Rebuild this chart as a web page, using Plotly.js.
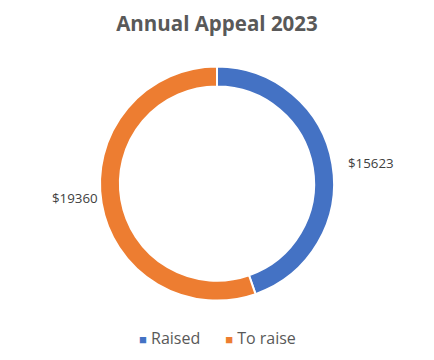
<!DOCTYPE html>
<html><head><meta charset="utf-8">
<script src="https://cdn.plot.ly/plotly-3.0.1.min.js"></script>
<style>html,body{margin:0;padding:0;background:#fff}#c{width:434px;height:360px}</style>
</head><body><div id="c"></div>
<script>
const categories = ["Raised", "To raise"];
const values = [15623, 19360];
const colors = ["#4472C4", "#ED7D31"];

const W = 434, H = 360;
const cx = 0.5, cy = 0.49, rPx = 117;
const dom = {x: [cx - rPx / W, cx + rPx / W], y: [cy - rPx / H, cy + rPx / H]};
const FONT = "Open Sans, Noto Sans, sans-serif";

const total = values.reduce((a, b) => a + b, 0);
const annotations = [];
let start = 0;
values.forEach((v, i) => {
  const mid = (start + v / 2) / total * 2 * Math.PI;
  start += v;
  const rr = rPx + 33;
  annotations.push({
    x: cx + (Math.sin(mid) * rr + 6) / W,
    y: cy + (Math.cos(mid) * rr * 0.7 + 3) / H,
    xref: "paper", yref: "paper", xanchor: "center", yanchor: "middle",
    text: "$" + v, showarrow: false,
    font: {family: FONT, size: 13.3, color: "#404040"}
  });
});

// legend drawn as text row with coloured squares
const legendText = categories.map((c, i) =>
  "<span style='color:" + colors[i] + ";font-size:13px'>■</span> " + c).join("      ");
annotations.push({
  x: 0.5, y: 0.06, xref: "paper", yref: "paper", xanchor: "center", yanchor: "middle",
  text: legendText, showarrow: false,
  font: {family: FONT, size: 16, color: "#595959"}
});

Plotly.newPlot("c", [{
  type: "pie",
  labels: categories,
  values: values,
  hole: 0.83,
  sort: false,
  direction: "clockwise",
  rotation: 0,
  textinfo: "none",
  marker: {colors: colors, line: {color: "#ffffff", width: 2}},
  domain: dom
}], {
  width: W, height: H,
  margin: {l: 0, r: 0, t: 0, b: 0},
  paper_bgcolor: "#ffffff",
  title: {text: "<b>Annual Appeal 2023</b>", x: 0.5, xanchor: "center", y: 0.935, yanchor: "middle",
    font: {family: FONT, size: 20.5, color: "#595959"}},
  showlegend: false,
  annotations: annotations
}, {displayModeBar: false, staticPlot: true});
</script></body></html>
